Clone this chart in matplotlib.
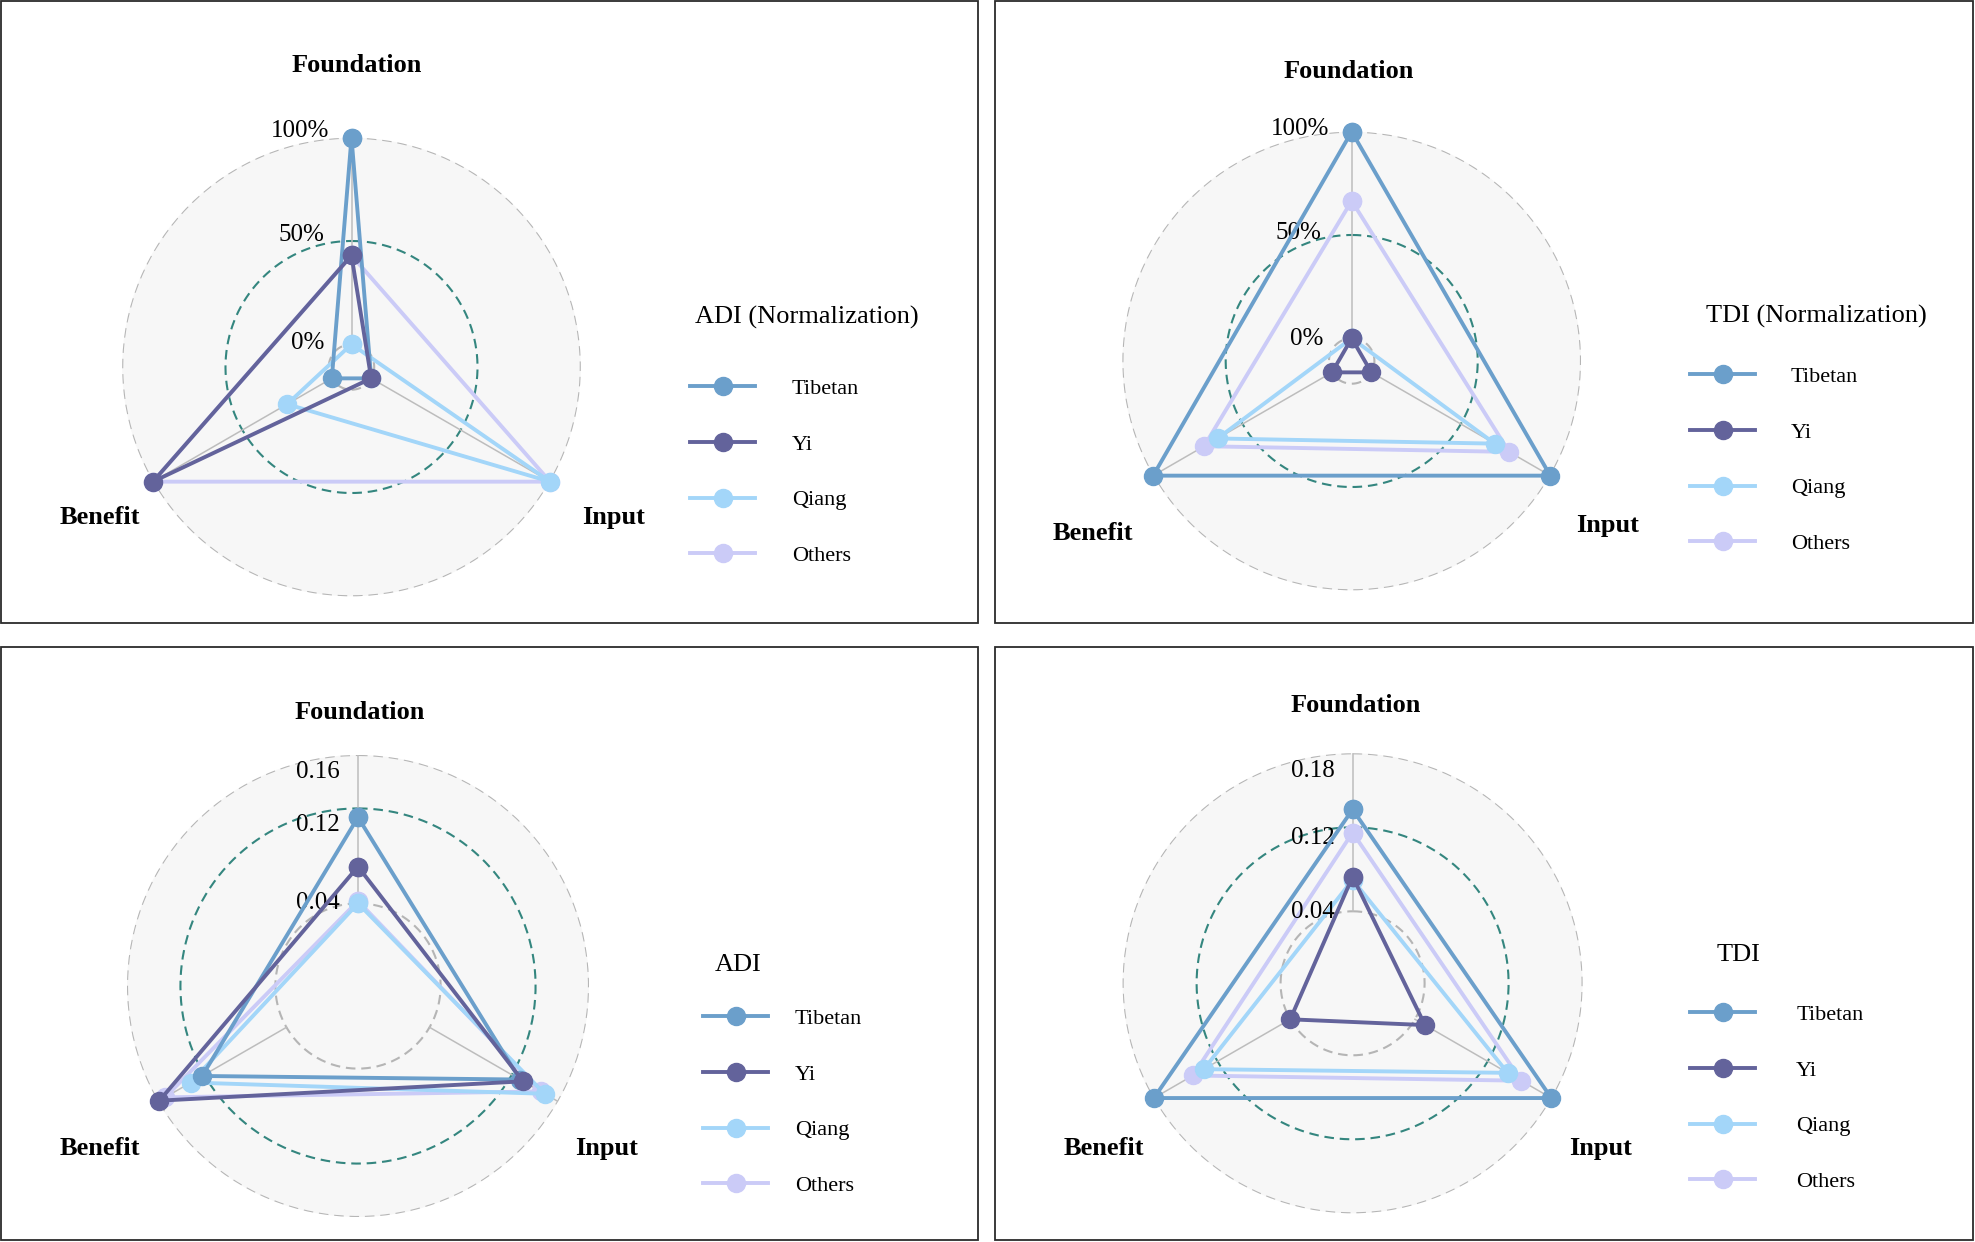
import numpy as np
import matplotlib
matplotlib.use("Agg")
import matplotlib.pyplot as plt
from matplotlib.lines import Line2D
from matplotlib.patches import Rectangle

plt.rcParams["font.family"] = ["Liberation Serif", "DejaVu Serif"]

# axes order: Foundation (top), Input (bottom right), Benefit (bottom left)
categories = ["Foundation", "Input", "Benefit"]
groups = ["Tibetan", "Yi", "Qiang", "Others"]
colors = ["#6b9fcb", "#63639b", "#a3d6f9", "#cbcbf7"]

# values per group, in the order of categories
adi_norm = [[100, 0, 0], [43, 0, 100], [0, 100, 25], [43, 100, 100]]
tdi_norm = [[100, 100, 100], [0, 0, 0], [0, 69, 64], [66.5, 77, 71.5]]
adi = [[0.1125, 0.128, 0.122], [0.071, 0.131, 0.1636],
       [0.040, 0.152, 0.133], [0.042, 0.148, 0.158]]
tdi = [[0.137, 0.19, 0.19], [0.073, 0.051, 0.040],
       [0.070, 0.142, 0.135], [0.115, 0.157, 0.147]]

norm_ticks = [0, 50, 100]
norm_labels = ["0%", "50%", "100%"]
adi_ticks = [0.04, 0.12, 0.16]
tdi_ticks = [0.04, 0.12, 0.18]
raw_labels_adi = ["0.04", "0.12", "0.16"]
raw_labels_tdi = ["0.04", "0.12", "0.18"]

W, H = 1975, 1242
fig = plt.figure(figsize=(W / 100, H / 100), dpi=100)

panels = [
    dict(data=adi_norm, title="ADI (Normalization)", ticks=norm_ticks,
         labels=norm_labels, rlim=(-11, 100), center=(351.5, 367), R=229.3,
         tick_dy=[1, 6, 7], tick_gap=[27, 27, 22],
         name_off=[(5, 72), (63, -36), (-53, -36)],
         title_xy=(695, 317), legend_xy=(690, 389), textpad=1.65),
    dict(data=tdi_norm, title="TDI (Normalization)", ticks=norm_ticks,
         labels=norm_labels, rlim=(-11, 100), center=(1351.7, 361), R=229.3,
         tick_dy=[-1, 2, 3], tick_gap=[28, 30, 22],
         name_off=[(-3, 60), (57, -50), (-60, -58)],
         title_xy=(1706, 316), legend_xy=(1690, 377), textpad=1.6),
    dict(data=adi, title="ADI", ticks=adi_ticks, labels=raw_labels_adi,
         rlim=(-0.0296, 0.165), center=(358, 986), R=231,
         tick_dy=[0, -17, -17], tick_gap=[18, 18, 18],
         name_off=[(2, 43), (49, -47), (-58, -47)],
         title_xy=(715, 965), legend_xy=(703, 1019), textpad=1.2),
    dict(data=tdi, title="TDI", ticks=tdi_ticks, labels=raw_labels_tdi,
         rlim=(-0.0286, 0.1905), center=(1352.6, 983.3), R=230,
         tick_dy=[-1, -11, -18], tick_gap=[18, 18, 18],
         name_off=[(3, 48), (49, -50), (-50, -50)],
         title_xy=(1717, 955), legend_xy=(1690, 1015), textpad=1.85),
]

# panel frames
frames = [(1, 1, 978, 623), (995, 1, 1973, 623),
          (1, 647, 978, 1240), (995, 647, 1973, 1240)]
for x0, y0, x1, y1 in frames:
    fig.add_artist(Rectangle((x0 / W, 1 - y1 / H), (x1 - x0) / W, (y1 - y0) / H,
                             transform=fig.transFigure, fill=False,
                             ec="#2b2b2b", lw=1.3))

theta = np.deg2rad([0, 120, 240])
theta_closed = np.append(theta, theta[0])
circle = np.linspace(0, 2 * np.pi, 300)
zorders = [4, 5, 3, 2]

for p in panels:
    cx, cy = p["center"]
    R = p["R"]
    ax = fig.add_axes([(cx - R) / W, (H - cy - R) / H, 2 * R / W, 2 * R / H],
                      projection="polar")
    ax.set_theta_zero_location("N")
    ax.set_theta_direction(-1)
    rmin, rmax = p["rlim"]
    ax.set_ylim(rmin, rmax)
    ax.set_xticks([])
    ax.set_yticks([])
    ax.grid(False)
    ax.spines["polar"].set_visible(False)
    ax.set_facecolor("#f7f7f7")

    rings = list(p["ticks"][:-1]) + [rmax]
    ring_colors = ["#b5b5b5", "#34867f", "#b5b5b5"]
    for r, rc in zip(rings, ring_colors):
        ax.plot(circle, np.full_like(circle, r), color=rc, lw=1.5,
                ls=(0, (4.6, 2.8)), zorder=1)
    for t in theta:
        ax.plot([t, t], [rings[0], rmax], color="#bdbdbd", lw=1.1, zorder=1)

    for vals, c, z in zip(p["data"], colors, zorders):
        v = np.append(vals, vals[0])
        ax.plot(theta_closed, v, color=c, lw=2.8, marker="o", ms=13,
                zorder=z, clip_on=False)

    for r, lbl, dy, gap in zip(rings, p["labels"], p["tick_dy"], p["tick_gap"]):
        ax.annotate(lbl, xy=(0, r), xytext=(-gap, dy), textcoords="offset pixels",
                    ha="right", va="center", fontsize=18,
                    annotation_clip=False)

    for t, name, off in zip(theta, categories, p["name_off"]):
        ax.annotate(name, xy=(t, rmax), xytext=off, textcoords="offset pixels",
                    ha="center", va="center", fontsize=19, fontweight="bold",
                    annotation_clip=False)

    tx, ty = p["title_xy"]
    fig.text(tx / W, 1 - ty / H, p["title"], ha="left", va="center", fontsize=19)

    handles = [Line2D([], [], color=c, lw=2.8, marker="o", ms=13) for c in colors]
    lx, ly = p["legend_xy"]
    fig.legend(handles, groups, loc="upper left",
               bbox_to_anchor=(lx / W, 1 - (ly - 10.5) / H), frameon=False,
               fontsize=16, handlelength=2.93, handletextpad=p["textpad"],
               labelspacing=1.58, borderpad=0, borderaxespad=0)

fig.savefig("out.png", dpi=100, facecolor="white")
